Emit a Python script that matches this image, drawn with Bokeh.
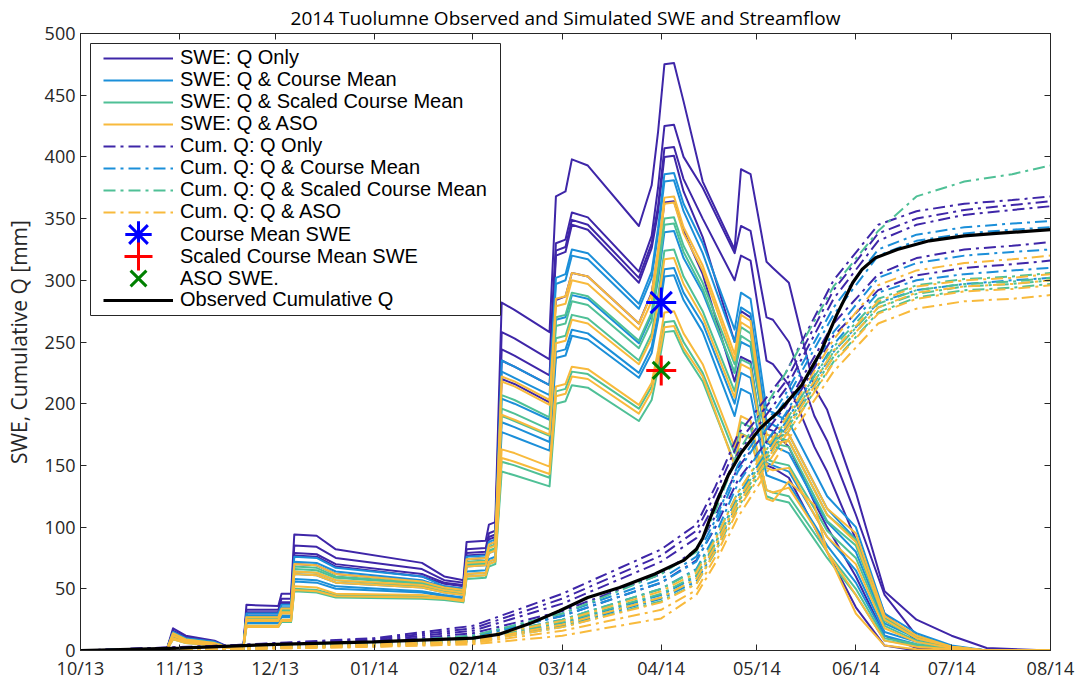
import pandas as pd
from bokeh.plotting import figure
from bokeh.models import (Legend, LegendItem, LinearAxis, DatetimeTickFormatter,
                          MonthsTicker, SingleIntervalTicker, FixedTicker,
                          Range1d, BoxAnnotation)
from bokeh.embed import file_html
from bokeh.resources import INLINE

# ---------------------------------------------------------------- data
SWE_DATES = pd.to_datetime([
    "2013-10-01", "2013-10-28", "2013-10-30", "2013-11-03", "2013-11-12",
    "2013-11-17", "2013-11-21", "2013-11-22", "2013-12-02", "2013-12-03",
    "2013-12-06", "2013-12-07", "2013-12-14", "2013-12-20", "2014-01-16",
    "2014-01-23", "2014-01-29", "2014-01-30", "2014-02-05", "2014-02-06",
    "2014-02-08", "2014-02-10", "2014-02-14", "2014-02-25", "2014-02-27",
    "2014-03-02", "2014-03-04", "2014-03-09", "2014-03-25", "2014-03-29",
    "2014-03-31", "2014-04-02", "2014-04-05", "2014-04-08", "2014-04-14",
    "2014-04-24", "2014-04-26", "2014-04-29", "2014-05-04", "2014-05-06",
    "2014-05-11", "2014-05-19", "2014-05-23", "2014-06-01", "2014-06-10",
    "2014-06-20", "2014-07-01", "2014-07-12", "2014-08-01"])

# SWE [mm], one list per ensemble member
SWE_Q_ONLY = [
    [0, 0.5, 18, 12, 8, 2, 1, 37, 36, 46, 46, 94, 93, 82, 71, 60, 57, 88, 89, 102, 104, 282, 276, 258, 368, 372, 398, 393, 344, 377, 420, 475, 476, 445, 380, 325, 390, 386, 315, 310, 298, 213, 195, 128, 48, 25, 12, 2, 0],
    [0, 0.5, 16, 11, 7, 2, 1, 33, 33, 42, 42, 85, 84, 75, 66, 57, 55, 82, 83, 95, 97, 258, 253, 236, 330, 333, 355, 351, 307, 336, 375, 425, 426, 400, 375, 322, 344, 340, 270, 268, 250, 190, 170, 110, 45, 12, 3, 0, 0],
    [0, 0.5, 15, 10, 7, 2, 1, 31, 31, 39, 39, 79, 78, 70, 62, 55, 53, 79, 80, 92, 94, 244, 239, 223, 324, 327, 349, 345, 302, 330, 360, 407, 408, 382, 350, 300, 320, 316, 235, 232, 215, 165, 145, 90, 30, 8, 2, 0, 0],
    [0, 0.5, 15, 10, 7, 2, 1, 30, 30, 38, 38, 77, 76, 68, 60, 54, 52, 77, 78, 90, 92, 235, 230, 215, 320, 323, 345, 341, 298, 326, 355, 400, 401, 372, 335, 250, 275, 270, 180, 178, 165, 120, 100, 60, 12, 2, 0, 0, 0],
    [0, 0.5, 13, 9, 6, 2, 1, 27, 27, 34, 34, 70, 69, 62, 56, 52, 50, 74, 75, 86, 88, 220, 216, 201, 284, 287, 306, 303, 265, 290, 322, 363, 364, 340, 305, 218, 238, 234, 150, 148, 140, 100, 80, 35, 4, 0, 0, 0, 0],
]
SWE_COURSE_MEAN = [
    [0, 0.5, 15, 10, 7, 2, 1, 30, 30, 37, 37, 76, 75, 67, 60, 52, 50, 76, 77, 88, 90, 235, 230, 215, 302, 305, 325, 322, 281, 307, 342, 386, 387, 362, 330, 260, 290, 285, 195, 193, 185, 145, 125, 100, 30, 14, 4, 0, 0],
    [0, 0.5, 14, 9, 6, 2, 1, 28, 28, 35, 35, 72, 71, 64, 57, 51, 49, 74, 75, 86, 88, 226, 221, 207, 297, 300, 320, 317, 277, 302, 337, 380, 381, 356, 322, 250, 278, 273, 185, 183, 175, 135, 115, 90, 26, 12, 3, 0, 0],
    [0, 0.5, 12, 8, 5, 2, 1, 24, 24, 30, 30, 62, 61, 55, 51, 47, 45, 68, 69, 79, 81, 204, 200, 187, 268, 270, 288, 285, 249, 272, 300, 339, 340, 318, 290, 225, 250, 246, 168, 166, 160, 122, 104, 80, 22, 10, 3, 0, 0],
    [0, 0.5, 11, 7, 5, 2, 1, 23, 23, 28, 28, 58, 57, 52, 48, 45, 43, 64, 65, 74, 76, 185, 181, 169, 242, 244, 260, 257, 225, 246, 273, 309, 310, 290, 265, 200, 225, 221, 152, 150, 145, 110, 92, 65, 15, 7, 2, 0, 0],
    [0, 0.5, 11, 7, 5, 2, 1, 22, 22, 27, 27, 56, 55, 50, 47, 44, 42, 62, 63, 72, 74, 177, 173, 162, 237, 239, 255, 252, 221, 241, 268, 303, 304, 284, 258, 190, 212, 208, 142, 140, 135, 102, 85, 55, 12, 5, 1, 0, 0],
]
SWE_SCALED_MEAN = [
    [0, 0.5, 13, 9, 6, 2, 1, 27, 27, 33, 33, 68, 67, 60, 55, 50, 48, 72, 73, 84, 86, 207, 203, 189, 270, 272, 290, 287, 251, 274, 310, 350, 351, 328, 298, 232, 262, 257, 175, 173, 170, 130, 110, 90, 26, 12, 3, 0, 0],
    [0, 0.5, 13, 9, 6, 2, 1, 26, 26, 32, 32, 66, 65, 59, 54, 49, 47, 70, 71, 81, 83, 196, 192, 179, 263, 265, 283, 280, 245, 267, 305, 345, 346, 323, 293, 225, 255, 250, 170, 168, 165, 125, 105, 85, 24, 10, 3, 0, 0],
    [0, 0.5, 12, 8, 5, 2, 1, 25, 25, 31, 31, 64, 63, 57, 52, 48, 46, 69, 70, 80, 82, 190, 186, 174, 253, 255, 272, 269, 235, 257, 287, 324, 325, 303, 275, 210, 236, 232, 155, 153, 150, 115, 97, 75, 20, 8, 2, 0, 0],
    [0, 0.5, 10, 7, 4, 2, 1, 20, 20, 24, 24, 50, 49, 45, 44, 42, 40, 60, 61, 70, 72, 153, 150, 140, 210, 212, 226, 224, 196, 214, 236, 266, 267, 250, 225, 160, 185, 181, 130, 128, 125, 95, 80, 50, 10, 5, 1, 0, 0],
    [0, 0.5, 9, 6, 4, 2, 1, 19, 19, 23, 23, 48, 47, 43, 42, 41, 39, 58, 59, 68, 70, 145, 142, 133, 200, 202, 215, 213, 186, 203, 228, 258, 259, 242, 218, 152, 176, 172, 125, 123, 120, 90, 75, 45, 8, 4, 1, 0, 0],
]
SWE_ASO = [
    [0, 0.5, 14, 9, 6, 2, 1, 27, 27, 34, 34, 70, 69, 62, 56, 51, 49, 74, 75, 86, 88, 222, 218, 203, 285, 287, 306, 303, 265, 289, 325, 367, 368, 343, 312, 240, 272, 267, 175, 173, 175, 135, 115, 95, 28, 12, 3, 0, 0],
    [0, 0.5, 12, 8, 5, 2, 1, 25, 25, 31, 31, 64, 63, 57, 53, 49, 47, 71, 72, 83, 85, 218, 214, 199, 279, 281, 300, 297, 260, 283, 320, 362, 363, 338, 308, 235, 266, 261, 170, 168, 170, 130, 110, 88, 25, 10, 3, 0, 0],
    [0, 0.5, 12, 8, 5, 2, 1, 24, 24, 30, 30, 62, 61, 55, 51, 47, 45, 68, 69, 79, 81, 191, 187, 175, 249, 251, 268, 265, 232, 253, 281, 317, 318, 297, 270, 205, 232, 228, 148, 146, 148, 110, 92, 70, 18, 7, 2, 0, 0],
    [0, 0.5, 10, 7, 4, 2, 1, 20, 20, 25, 25, 52, 51, 46, 45, 43, 41, 62, 63, 72, 74, 163, 160, 149, 214, 216, 230, 228, 199, 217, 243, 274, 275, 257, 232, 165, 190, 186, 130, 128, 132, 100, 80, 45, 8, 3, 1, 0, 0],
    [0, 0.5, 9, 6, 4, 2, 1, 19, 19, 24, 24, 49, 48, 44, 43, 42, 40, 60, 61, 70, 72, 156, 153, 143, 206, 208, 222, 220, 192, 210, 235, 262, 263, 245, 222, 150, 175, 172, 123, 121, 137, 118, 80, 30, 4, 1, 0, 0, 0],
]

Q_DATES = pd.to_datetime([
    "2013-10-01", "2013-11-15", "2014-01-01", "2014-02-01", "2014-03-01",
    "2014-04-01", "2014-04-12", "2014-04-18", "2014-04-25", "2014-05-10",
    "2014-05-25", "2014-06-08", "2014-06-20", "2014-07-05", "2014-07-20",
    "2014-08-01"])

# simulated cumulative streamflow [mm], one list per ensemble member
CUMQ_Q_ONLY = [
    [0, 4, 10, 20, 46, 82, 102, 133, 175, 225, 300, 345, 356, 362, 365, 368],
    [0, 4, 9, 18, 42, 77, 97, 127, 168, 218, 292, 338, 350, 357, 361, 364],
    [0, 3, 8, 16, 38, 72, 91, 120, 160, 212, 285, 332, 345, 353, 357, 360],
    [0, 3, 7, 14, 32, 62, 82, 109, 148, 198, 265, 305, 318, 325, 328, 331],
    [0, 2, 6, 12, 28, 55, 73, 100, 138, 190, 255, 292, 304, 310, 313, 316],
]
CUMQ_COURSE_MEAN = [
    [0, 2, 6, 12, 30, 58, 76, 106, 150, 208, 278, 325, 337, 343, 346, 348],
    [0, 2, 6, 11, 28, 55, 72, 102, 145, 203, 272, 320, 332, 338, 341, 343],
    [0, 2, 5, 10, 25, 50, 66, 94, 135, 192, 258, 302, 314, 320, 323, 325],
    [0, 2, 5, 9, 22, 45, 60, 87, 125, 185, 248, 290, 300, 305, 308, 310],
    [0, 1, 4, 8, 20, 42, 56, 82, 120, 180, 242, 282, 292, 297, 300, 302],
]
CUMQ_SCALED_MEAN = [
    [0, 2, 6, 12, 30, 62, 80, 113, 160, 225, 295, 340, 368, 380, 386, 393],
    [0, 2, 5, 10, 25, 50, 65, 91, 128, 186, 246, 285, 296, 301, 303, 306],
    [0, 1, 5, 9, 23, 46, 61, 87, 123, 182, 242, 281, 292, 297, 299, 302],
    [0, 1, 4, 8, 21, 43, 58, 84, 120, 178, 238, 278, 289, 295, 297, 300],
    [0, 1, 4, 7, 19, 40, 54, 80, 116, 174, 234, 274, 286, 292, 294, 297],
]
CUMQ_ASO = [
    [0, 2, 5, 10, 24, 48, 63, 90, 128, 188, 252, 296, 308, 314, 317, 320],
    [0, 1, 4, 8, 21, 43, 58, 85, 122, 182, 243, 283, 295, 300, 302, 305],
    [0, 1, 4, 7, 19, 39, 54, 81, 118, 178, 238, 278, 290, 295, 297, 300],
    [0, 1, 3, 6, 16, 33, 49, 76, 114, 174, 233, 273, 285, 291, 293, 296],
    [0, 1, 3, 5, 12, 26, 45, 71, 108, 168, 226, 265, 277, 283, 285, 288],
]

OBS_DATES = pd.to_datetime([
    "2013-10-01", "2013-11-01", "2013-12-01", "2014-01-01", "2014-02-01",
    "2014-02-09", "2014-02-19", "2014-02-28", "2014-03-09", "2014-03-19",
    "2014-03-30", "2014-04-08", "2014-04-12", "2014-04-14", "2014-04-16",
    "2014-04-19", "2014-04-22", "2014-04-26", "2014-05-02", "2014-05-08",
    "2014-05-15", "2014-05-21", "2014-05-26", "2014-05-31", "2014-06-03",
    "2014-06-07", "2014-06-14", "2014-06-24", "2014-07-05", "2014-07-15",
    "2014-08-01"])
OBS_CUMQ = [0, 2, 5, 7, 10, 13, 22, 32, 43, 51, 62, 73, 82, 91, 105, 124,
            142, 160, 180, 194, 215, 242, 272, 298, 309, 318, 325, 332, 336,
            338, 341]

SURVEY_DATE = pd.to_datetime(["2014-04-01"])
COURSE_MEAN_SWE = [282]
SCALED_COURSE_MEAN_SWE = [227]
ASO_SWE = [227]

GROUP_LABELS = ["Q Only", "Q & Course Mean", "Q & Scaled Course Mean", "Q & ASO"]
GROUP_COLORS = ["#3e26a8", "#1b8fd9", "#4fc096", "#f8ba3c"]

# ---------------------------------------------------------------- figure
FONT = "Open Sans"
LEGEND_FONT = "Liberation Sans"
INK = "#262626"
W, H = 1082, 683
LEFT, RIGHT, TOP, BOTTOM = 80, 32, 33, 33          # borders around the frame
FRAME_BOTTOM = H - BOTTOM

p = figure(width=W, height=H, x_axis_type="datetime",
           output_backend="svg", toolbar_location=None,
           min_border_left=LEFT, min_border_right=RIGHT,
           min_border_top=TOP, min_border_bottom=BOTTOM,
           x_range=Range1d(pd.Timestamp("2013-10-01"), pd.Timestamp("2014-08-01")),
           y_range=Range1d(0, 500))

p.title.text = "2014 Tuolumne Observed and Simulated SWE and Streamflow"
p.title.align = "center"
p.title.text_font = FONT
p.title.text_font_size = "19px"
p.title.text_font_style = "normal"
p.title.text_color = "black"
p.title.standoff = 5

p.xgrid.visible = False
p.ygrid.visible = False
p.outline_line_color = INK
p.outline_line_width = 1


def style_axis(ax):
    ax.axis_line_color = INK
    ax.major_tick_line_color = INK
    ax.minor_tick_line_color = INK
    ax.major_tick_in = 6
    ax.major_tick_out = 0
    ax.minor_tick_in = 6
    ax.minor_tick_out = 0
    ax.major_label_text_font = FONT
    ax.major_label_text_font_size = "18px"
    ax.major_label_text_color = INK
    ax.major_label_standoff = 5


fmt = "%m/%y"
xb = p.xaxis[0]
xb.ticker = MonthsTicker(months=list(range(12)))
xb.formatter = DatetimeTickFormatter(days=fmt, months=fmt, years=fmt)
style_axis(xb)
xb.minor_tick_in = 0

yl = p.yaxis[0]
yl.ticker = SingleIntervalTicker(interval=50)
style_axis(yl)
yl.minor_tick_in = 0
yl.axis_label = "SWE, Cumulative Q [mm]"
yl.axis_label_text_font = FONT
yl.axis_label_text_font_size = "21px"
yl.axis_label_text_font_style = "normal"
yl.axis_label_text_color = INK
yl.axis_label_standoff = 9

# box ticks on the top and right edges (tick marks only, no labels)
month_ms = [t.value / 1e6 for t in pd.date_range("2013-10-01", "2014-08-01", freq="MS")]
xt = LinearAxis(ticker=FixedTicker(ticks=[], minor_ticks=month_ms))
style_axis(xt)
p.add_layout(xt, "above")

yr = LinearAxis(ticker=FixedTicker(ticks=[], minor_ticks=list(range(0, 501, 50))))
style_axis(yr)
p.add_layout(yr, "right")

# ---------------------------------------------------------------- glyphs
swe_groups = [SWE_Q_ONLY, SWE_COURSE_MEAN, SWE_SCALED_MEAN, SWE_ASO]
q_groups = [CUMQ_Q_ONLY, CUMQ_COURSE_MEAN, CUMQ_SCALED_MEAN, CUMQ_ASO]

swe_first, q_first = [], []
for members, color in zip(swe_groups, GROUP_COLORS):
    rs = [p.line(SWE_DATES, m, line_color=color, line_width=2,
                 line_join="round") for m in members]
    swe_first.append(rs[0])

for members, color in zip(q_groups, GROUP_COLORS):
    rs = [p.line(Q_DATES, m, line_color=color, line_width=2,
                 line_dash="12 5 3 5") for m in members]
    q_first.append(rs[0])

r_course = p.scatter(SURVEY_DATE, COURSE_MEAN_SWE, marker="asterisk", size=30,
                     line_color="#0000ff", line_width=3)
r_scaled = p.scatter(SURVEY_DATE, SCALED_COURSE_MEAN_SWE, marker="cross", size=30,
                     line_color="#ff0000", line_width=3)
r_aso = p.scatter(SURVEY_DATE, ASO_SWE, marker="x", size=24,
                  line_color="#008000", line_width=3)

r_obs = p.line(OBS_DATES, OBS_CUMQ, line_color="black", line_width=3.2)

# ---------------------------------------------------------------- legend
# white framed box behind the legend rows
p.add_layout(BoxAnnotation(left=90, right=500, top=43, bottom=315,
                           left_units="canvas", right_units="canvas",
                           top_units="canvas", bottom_units="canvas",
                           fill_color="white", fill_alpha=1,
                           line_color=INK, line_alpha=1, line_width=1))

ROW = 22            # vertical advance of one legend row
ROW1_Y = 58         # centre of the first legend row (canvas px)
GLYPH_CX = 138      # centre of the legend glyph column (canvas px)
TEXT_X = 180        # left edge of the legend labels (canvas px)

rows = []   # (label, renderer, glyph box size)
for lab, r in zip(GROUP_LABELS, swe_first):
    rows.append(("SWE: " + lab, r, (70, 22)))
for lab, r in zip(GROUP_LABELS, q_first):
    rows.append(("Cum. Q: " + lab, r, (70, 22)))
rows += [
    ("Course Mean SWE", r_course, (66, 66)),
    ("Scaled Course Mean SWE", r_scaled, (70, 70)),
    ("ASO SWE.", r_aso, (56, 56)),
    ("Observed Cumulative Q", r_obs, (70, 22)),
]

# one single-row legend per entry, so each row can have its own glyph box
for k, (label, rend, (gw, gh)) in enumerate(rows):
    cy = ROW1_Y + k * ROW
    left = GLYPH_CX - gw / 2
    p.add_layout(Legend(
        items=[LegendItem(label=label, renderers=[rend])],
        location=(left - LEFT, FRAME_BOTTOM - (cy + gh / 2)),
        border_line_alpha=0, background_fill_alpha=0,
        label_text_font=LEGEND_FONT, label_text_font_size="20px",
        label_text_color="black",
        glyph_width=gw, glyph_height=gh, label_height=gh,
        spacing=0, padding=0, margin=0,
        label_standoff=int(round(TEXT_X - (left + gw)))))

open("out.html", "w").write(file_html(p, INLINE))
